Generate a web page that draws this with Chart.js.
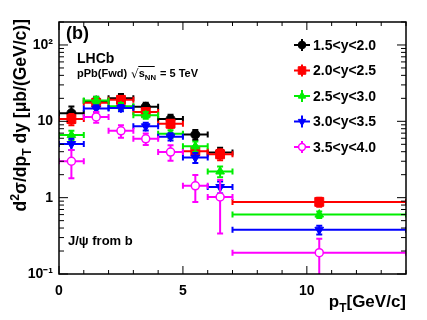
<!DOCTYPE html>
<html><head><meta charset="utf-8">
<script src="https://cdn.jsdelivr.net/npm/chart.js@4/dist/chart.umd.min.js"></script>
<style>html,body{margin:0;padding:0;background:#fff}canvas{display:block}</style>
</head><body>
<canvas id="c" width="427" height="320"></canvas>
<script>
// ---------- data ----------
const binCenter = [0.5, 1.5, 2.5, 3.5, 4.5, 5.5, 6.5, 10.5];
const binLow    = [0, 1, 2, 3, 4, 5, 6, 7];
const binHigh   = [1, 2, 3, 4, 5, 6, 7, 14];

const seriesLabels = ['1.5<y<2.0', '2.0<y<2.5', '2.5<y<3.0', '3.0<y<3.5', '3.5<y<4.0'];

const val_15_20 = [12.8, 18.5, 20.0, 15.5, 10.7, 6.7, 3.9];
const err_15_20 = [2.8, 2.5, 2.8, 2.0, 1.5, 1.0, 0.6];
const val_20_25 = [10.7, 17.5, 19.1, 13.2, 9.3, 4.05, 3.7, 0.88];
const err_20_25 = [1.8, 2.0, 2.3, 1.6, 1.1, 0.6, 0.6, 0.12];
const val_25_30 = [6.6, 18.8, 15.8, 12.0, 6.85, 4.7, 2.2, 0.6];
const err_25_30 = [0.9, 2.0, 1.6, 1.2, 0.8, 0.75, 0.35, 0.06];
const val_30_35 = [5.05, 14.7, 15.0, 8.6, 6.3, 3.35, 1.38, 0.38];
const err_30_35 = [0.85, 1.5, 1.4, 1.0, 0.7, 0.5, 0.25, 0.05];
const val_35_40 = [3.0, 11.4, 7.5, 5.9, 3.95, 1.43, 1.02, 0.19];
const err_35_40 = [1.2, 1.8, 1.4, 1.0, 0.9, 0.55, 0.68, 0.1];

const xTickValues = [0, 5, 10];
const yTickValues = [0.1, 1, 10, 100];
const yTickLabels = ['10\u207B\u00B9', '1', '10', '10\u00B2'];

// ---------- styles ----------
const FONT = '"Liberation Sans", Arial, Helvetica, sans-serif';
const seriesValues = [val_15_20, val_20_25, val_25_30, val_30_35, val_35_40];
const seriesErrors = [err_15_20, err_20_25, err_25_30, err_30_35, err_35_40];
const seriesStyles = [
  {color: '#000000', point: 'circle',   rot: 0,   r: 4.5, fill: '#000000', bw: 1},
  {color: '#ff0000', point: 'rect',     rot: 0,   r: 6.3, fill: '#ff0000', bw: 1},
  {color: '#00ee00', point: 'triangle', rot: 0,   r: 5.0, fill: '#00ee00', bw: 1},
  {color: '#0000ff', point: 'triangle', rot: 180, r: 5.0, fill: '#0000ff', bw: 1},
  {color: '#ff00ff', point: 'circle',   rot: 0,   r: 4.0, fill: '#ffffff', bw: 1.5}
];

const datasets = seriesValues.map((vals, s) => ({
  label: seriesLabels[s],
  data: vals.map((v, i) => ({x: binCenter[i], y: v, xlo: binLow[i], xhi: binHigh[i], err: seriesErrors[s][i]})),
  borderColor: seriesStyles[s].color,
  backgroundColor: seriesStyles[s].fill,
  pointStyle: seriesStyles[s].point,
  rotation: seriesStyles[s].rot,
  pointRadius: seriesStyles[s].r,
  pointBorderWidth: seriesStyles[s].bw,
  showLine: false,
  order: 4 - s
}));

function drawMarker(ctx, st, x, y, scale) {
  const r0 = st.r * scale;
  ctx.save();
  ctx.fillStyle = st.fill; ctx.strokeStyle = st.color; ctx.lineWidth = st.bw;
  ctx.beginPath();
  if (st.point === 'circle') {
    ctx.arc(x, y, r0, 0, Math.PI * 2);
  } else if (st.point === 'rect') {
    const h = r0 * Math.SQRT1_2; ctx.rect(x - h, y - h, 2 * h, 2 * h);
  } else {
    const r = r0, sgn = st.rot ? -1 : 1;
    ctx.moveTo(x, y - sgn * r);
    ctx.lineTo(x + r * Math.sin(2 * Math.PI / 3), y + sgn * r / 2);
    ctx.lineTo(x - r * Math.sin(2 * Math.PI / 3), y + sgn * r / 2);
    ctx.closePath();
  }
  ctx.fill(); ctx.stroke();
  ctx.restore();
}

function drawRich(ctx, parts, x, y, size) {
  // parts: [text, mode] mode: 0 normal, 1 sub, 2 sup
  let cx = x;
  parts.forEach(([t, m]) => {
    const fs = m ? size * 0.7 : size;
    ctx.font = 'bold ' + fs + 'px ' + FONT;
    const dy = m === 1 ? size * 0.3 : (m === 2 ? -size * 0.4 : 0);
    ctx.fillText(t, cx, y + dy);
    cx += ctx.measureText(t).width;
  });
  return cx - x;
}
function measureRich(ctx, parts, size) {
  let w = 0;
  parts.forEach(([t, m]) => {
    ctx.font = 'bold ' + (m ? size * 0.7 : size) + 'px ' + FONT;
    w += ctx.measureText(t).width;
  });
  return w;
}

const rootStyle = {
  id: 'rootStyle',
  beforeDatasetDraw(chart, args) {
    const ds = chart.data.datasets[args.index];
    const xs = chart.scales.x, ys = chart.scales.y, ca = chart.chartArea, ctx = chart.ctx;
    ctx.save();
    ctx.beginPath(); ctx.rect(ca.left, ca.top, ca.right - ca.left, ca.bottom - ca.top); ctx.clip();
    ctx.strokeStyle = ds.borderColor; ctx.lineWidth = 2;
    ds.data.forEach(p => {
      const py = ys.getPixelForValue(p.y);
      const px = xs.getPixelForValue(p.x);
      const x0 = xs.getPixelForValue(p.xlo), x1 = xs.getPixelForValue(p.xhi);
      const yt = ys.getPixelForValue(p.y + p.err);
      const yb = ys.getPixelForValue(Math.max(p.y - p.err, 0.01));
      ctx.beginPath();
      ctx.moveTo(x0, py); ctx.lineTo(x1, py);
      ctx.moveTo(x0, py - 3); ctx.lineTo(x0, py + 3);
      ctx.moveTo(x1, py - 3); ctx.lineTo(x1, py + 3);
      ctx.moveTo(px, yt); ctx.lineTo(px, yb);
      ctx.moveTo(px - 3, yt); ctx.lineTo(px + 3, yt);
      ctx.moveTo(px - 3, yb); ctx.lineTo(px + 3, yb);
      ctx.stroke();
    });
    ctx.restore();
  },
  afterDraw(chart) {
    const xs = chart.scales.x, ys = chart.scales.y, ca = chart.chartArea, ctx = chart.ctx;
    ctx.save();
    // frame
    ctx.strokeStyle = '#000'; ctx.lineWidth = 1.5;
    ctx.strokeRect(ca.left, ca.top, ca.right - ca.left, ca.bottom - ca.top);
    // x ticks
    ctx.lineWidth = 1;
    ctx.beginPath();
    for (let v = xs.min; v <= xs.max; v += 1) {
      const px = xs.getPixelForValue(v);
      const len = v % 5 === 0 ? 8 : 4;
      ctx.moveTo(px, ca.bottom); ctx.lineTo(px, ca.bottom - len);
      ctx.moveTo(px, ca.top); ctx.lineTo(px, ca.top + len);
    }
    // y ticks (log)
    yTickValues.forEach(d => {
      for (let m = 1; m <= 9; m++) {
        const v = d * m;
        if (v < ys.min - 1e-9 || v > ys.max + 1e-9) continue;
        const py = ys.getPixelForValue(v);
        const len = m === 1 ? 9 : 5;
        ctx.moveTo(ca.left, py); ctx.lineTo(ca.left + len, py);
        ctx.moveTo(ca.right, py); ctx.lineTo(ca.right - len, py);
      }
    });
    ctx.stroke();

    ctx.fillStyle = '#000';
    ctx.textBaseline = 'alphabetic'; ctx.textAlign = 'left';
    // (b)
    ctx.font = 'bold 18px ' + FONT; ctx.fillText('(b)', 66, 39);
    // LHCb
    ctx.font = 'bold 14px ' + FONT; ctx.fillText('LHCb', 77, 63);
    // pPb(Fwd) sqrt(sNN) = 5 TeV
    ctx.font = 'bold 11px ' + FONT;
    ctx.fillText('pPb(Fwd)', 77, 77);
    let cx = 77 + ctx.measureText('pPb(Fwd)').width + 4;
    ctx.font = '12px "DejaVu Sans", sans-serif';
    ctx.fillText('\u221A', cx, 78);
    cx += ctx.measureText('\u221A').width;
    ctx.beginPath(); ctx.lineWidth = 1; ctx.moveTo(cx - 0.5, 66.5); ctx.lineTo(cx + 16, 66.5); ctx.stroke();
    cx += drawRich(ctx, [['s', 0], ['NN', 1]], cx, 77, 11);
    ctx.font = 'bold 11px ' + FONT;
    ctx.fillText(' = 5 TeV', cx + 1, 77);
    // J/psi from b
    ctx.font = 'bold 13px ' + FONT; ctx.fillText('J/\u03C8 from b', 68, 245);

    // legend
    seriesLabels.forEach((lab, i) => {
      const yc = 45 + i * 25.5, mx = 302;
      const st = seriesStyles[i];
      ctx.strokeStyle = st.color; ctx.lineWidth = 2;
      ctx.beginPath();
      ctx.moveTo(mx - 8, yc); ctx.lineTo(mx + 8, yc);
      ctx.moveTo(mx, yc - 6); ctx.lineTo(mx, yc + 6);
      ctx.stroke();
      drawMarker(ctx, st, mx, yc, 0.85);
      ctx.fillStyle = '#000';
      ctx.font = 'bold 14px ' + FONT; ctx.textBaseline = 'middle';
      ctx.fillText(lab, 313, yc + 1);
      ctx.textBaseline = 'alphabetic';
    });

    // x title
    const xt = [['p', 0], ['T', 1], ['[GeV/c]', 0]];
    const xw = measureRich(ctx, xt, 17);
    drawRich(ctx, xt, ca.right - xw, 307, 17);

    // y title (rotated)
    const yt = [['d', 0], ['2', 2], ['\u03C3/dp', 0], ['T', 1], [' dy [\u03BCb/(GeV/c)]', 0]];
    const yw = measureRich(ctx, yt, 17.5);
    ctx.save();
    ctx.translate(26, 19 + yw);
    ctx.rotate(-Math.PI / 2);
    drawRich(ctx, yt, 0, 0, 17.5);
    ctx.restore();
    ctx.restore();
  }
};

new Chart(document.getElementById('c'), {
  type: 'scatter',
  data: {datasets},
  options: {
    responsive: false,
    animation: false,
    devicePixelRatio: 1,
    events: [],
    layout: {padding: {left: 0, top: 22, right: 21, bottom: 0}},
    plugins: {legend: {display: false}, tooltip: {enabled: false}},
    scales: {
      x: {
        type: 'linear', min: 0, max: 14,
        afterBuildTicks: s => { s.ticks = xTickValues.map(v => ({value: v})); },
        afterFit: s => { s.height = 46; },
        grid: {display: false, drawTicks: false},
        border: {display: false},
        ticks: {color: '#000', font: {family: FONT, size: 14, weight: 'bold'}, padding: 9, maxRotation: 0, autoSkip: false}
      },
      y: {
        type: 'logarithmic', min: 0.1, max: 200,
        afterBuildTicks: s => { s.ticks = yTickValues.map(v => ({value: v})); },
        afterFit: s => { s.width = 59; },
        grid: {display: false, drawTicks: false},
        border: {display: false},
        ticks: {
          color: '#000', font: {family: FONT, size: 14, weight: 'bold'}, padding: 6, autoSkip: false,
          callback: v => { const i = yTickValues.findIndex(t => Math.abs(t - v) < 1e-9); return i >= 0 ? yTickLabels[i] : ''; }
        }
      }
    }
  },
  plugins: [rootStyle]
});
</script>
</body></html>
